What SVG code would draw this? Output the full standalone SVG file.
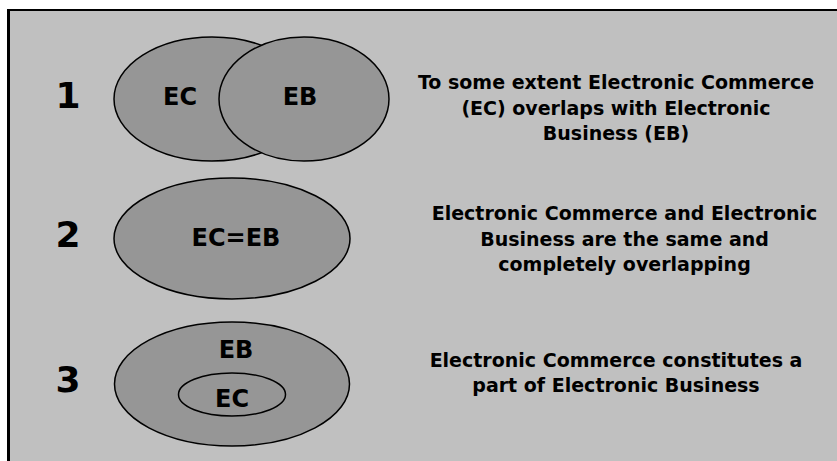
<svg xmlns="http://www.w3.org/2000/svg" width="837" height="461" viewBox="0 0 837 461">
  <style>
    .set { fill: #969696; stroke: #000; stroke-width: 1.5; }
    .lbl { font-family: "DejaVu Sans", Verdana, sans-serif; font-weight: bold; fill: #000; text-anchor: middle; }
    .num { font-size: 36px; }
    .in  { font-size: 24px; }
    .desc { font-size: 19px; }
  </style>
  <rect x="0" y="0" width="837" height="461" fill="#fff"/>
  <!-- panel -->
  <rect x="9" y="10" width="840" height="460" fill="#c0c0c0"/>
  <line x1="8.5" y1="10" x2="8.5" y2="461" stroke="#000" stroke-width="3"/>
  <line x1="7" y1="10" x2="837" y2="10" stroke="#000" stroke-width="2"/>

  <!-- case 1: partial overlap -->
  <g id="case1">
    <text class="lbl num" x="68" y="108">1</text>
    <ellipse class="set" cx="212" cy="99" rx="98" ry="62"/>
    <ellipse class="set" cx="304" cy="99" rx="85" ry="62"/>
    <text class="lbl in" x="180" y="105">EC</text>
    <text class="lbl in" x="300" y="105">EB</text>
    <text class="lbl desc" x="616" y="89">To some extent Electronic Commerce</text>
    <text class="lbl desc" x="616" y="115">(EC) overlaps with Electronic</text>
    <text class="lbl desc" x="616" y="140">Business (EB)</text>
  </g>

  <!-- case 2: identical -->
  <g id="case2">
    <text class="lbl num" x="68" y="247">2</text>
    <ellipse class="set" cx="232" cy="238.5" rx="118" ry="60.5"/>
    <text class="lbl in" x="236" y="246">EC=EB</text>
    <text class="lbl desc" x="624.5" y="220">Electronic Commerce and Electronic</text>
    <text class="lbl desc" x="624.5" y="245.5">Business are the same and</text>
    <text class="lbl desc" x="624.5" y="271">completely overlapping</text>
  </g>

  <!-- case 3: EC contained in EB -->
  <g id="case3">
    <text class="lbl num" x="68" y="392">3</text>
    <ellipse class="set" cx="232" cy="384" rx="117.5" ry="62"/>
    <ellipse class="set" cx="232" cy="394.5" rx="53.5" ry="21.5"/>
    <text class="lbl in" x="236" y="358">EB</text>
    <text class="lbl in" x="232" y="407">EC</text>
    <text class="lbl desc" x="616" y="367">Electronic Commerce constitutes a</text>
    <text class="lbl desc" x="616" y="392">part of Electronic Business</text>
  </g>
</svg>
